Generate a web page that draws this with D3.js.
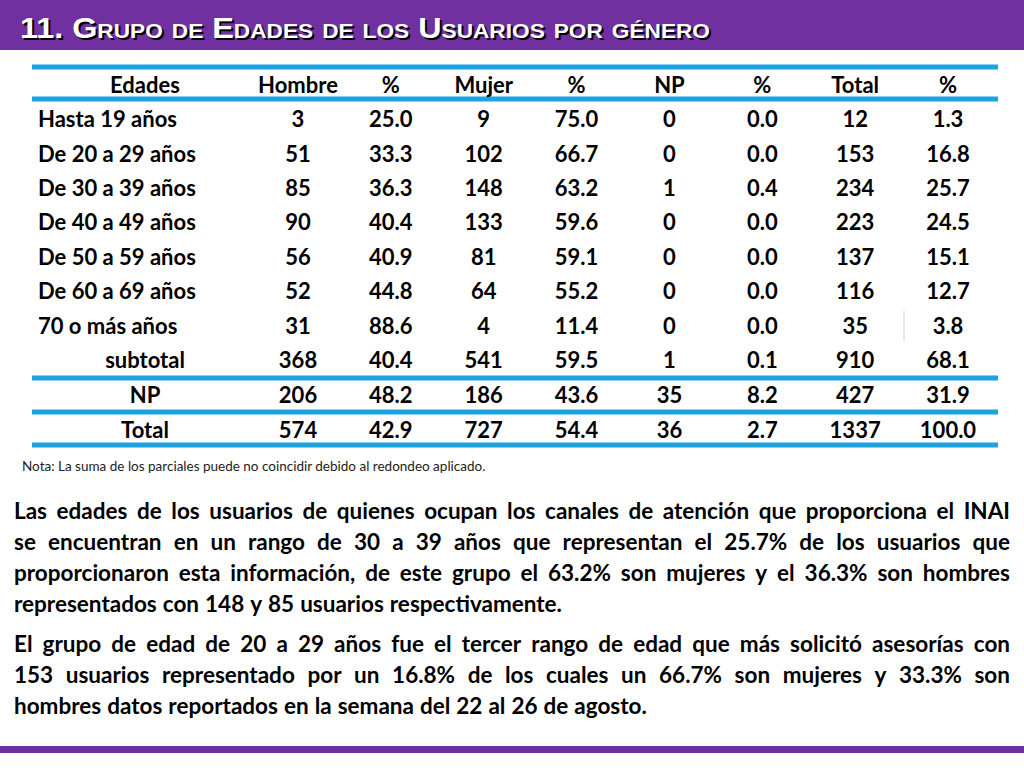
<!DOCTYPE html>
<html><head><meta charset="utf-8">
<script src="https://cdn.jsdelivr.net/npm/d3@7"></script>
<style>body{margin:0;background:#fff}svg{display:block}</style>
</head><body>
<svg id="c" width="1024" height="768"></svg>
<script>
const title = "11. Grupo de  Edades de los Usuarios por género";
const headers = ["Edades","Hombre","%","Mujer","%","NP","%","Total","%"];
const ages = ["Hasta 19 años","De 20 a 29 años","De 30 a 39 años","De 40 a 49 años","De 50 a 59 años","De 60 a 69 años","70 o más años","subtotal","NP","Total"];
const hombre = [3,51,85,90,56,52,31,368,206,574];
const pctH = ["25.0","33.3","36.3","40.4","40.9","44.8","88.6","40.4","48.2","42.9"];
const mujer = [9,102,148,133,81,64,4,541,186,727];
const pctM = ["75.0","66.7","63.2","59.6","59.1","55.2","11.4","59.5","43.6","54.4"];
const np = [0,0,1,0,0,0,0,1,35,36];
const pctNP = ["0.0","0.0","0.4","0.0","0.0","0.0","0.0","0.1","8.2","2.7"];
const total = [12,153,234,223,137,116,35,910,427,1337];
const pctT = ["1.3","16.8","25.7","24.5","15.1","12.7","3.8","68.1","31.9","100.0"];
const note = "Nota: La suma de los parciales puede no coincidir debido al redondeo aplicado.";
const para1 = ["Las edades de los usuarios de quienes ocupan los canales de atención que proporciona el INAI",
"se encuentran en un rango de 30 a 39 años que representan el 25.7% de los usuarios que",
"proporcionaron esta información, de este grupo el 63.2% son mujeres y el 36.3% son hombres",
"representados con 148 y 85 usuarios respectivamente."];
const para2 = ["El grupo de edad de 20 a 29 años fue el tercer rango de edad que más solicitó asesorías con",
"153 usuarios representado por un 16.8% de los cuales un 66.7%  son mujeres y 33.3% son",
"hombres datos reportados en la semana del 22 al 26 de agosto."];

const svg = d3.select("#c");
const purple = "#7030A0", blue = "#1AA3E0";
const F = "Lato, 'Open Sans', sans-serif";

svg.append("rect").attr("x",0).attr("y",0).attr("width",1024).attr("height",50).attr("fill",purple);
svg.append("rect").attr("x",0).attr("y",746).attr("width",1024).attr("height",7).attr("fill",purple);
[[2,2,"#000"],[0,0,"#fff"]].forEach(([dx,dy,c])=>{
  svg.append("text").attr("x",20+dx).attr("y",38+dy).attr("fill",c)
    .attr("font-family","'Liberation Sans Narrow','Liberation Sans',Arial,sans-serif").attr("font-weight","bold")
    .attr("font-size",30).style("font-variant","small-caps").attr("textLength",690).attr("lengthAdjust","spacingAndGlyphs")
    .text(title);
});

const rowIdx = d3.range(ages.length);
const y = d3.scaleLinear().domain([-1,6]).range([85,326]);
const rowY = i => i<7 ? y(i) : [360,395,430][i-7];
const x = d3.scaleLinear().domain([1,8]).range([298,948]);

[67,99,378,412,445].forEach(ly=>svg.append("rect").attr("x",32).attr("width",966).attr("y",ly-2.5).attr("height",5).attr("fill",blue));
svg.append("line").attr("x1",904).attr("x2",904).attr("y1",311).attr("y2",341).attr("stroke","#ccc");

const t = svg.append("g").attr("font-family",F).attr("font-weight","bold").attr("font-size",22).attr("fill","#000");
headers.forEach((h,j)=>t.append("text").attr("x",j===0?145:x(j)).attr("y",rowY(-1)).attr("dy","0.35em").attr("text-anchor","middle").text(h));
const cols = [hombre,pctH,mujer,pctM,np,pctNP,total,pctT];
rowIdx.forEach(i=>{
  const lab = t.append("text").attr("y",rowY(i)).attr("dy","0.35em").text(ages[i]);
  if(i<7) lab.attr("x",38); else lab.attr("x",145).attr("text-anchor","middle");
  cols.forEach((c,j)=>t.append("text").attr("x",x(j+1)).attr("y",rowY(i)).attr("dy","0.35em").attr("text-anchor","middle").text(c[i]));
});
svg.append("text").attr("x",22).attr("y",471).attr("font-family",F).attr("font-size",13.5).attr("fill","#222").text(note);

function justify(lines, y0, step){
  lines.forEach((ln,k)=>{
    const yy = y0+k*step, last = k===lines.length-1;
    const words = ln.split(/\s+/);
    const g = svg.append("g").attr("font-family",F).attr("font-weight","bold").attr("font-size",22.5).attr("fill","#000");
    const ts = words.map(w=>g.append("text").attr("y",yy).text(w));
    const ws = ts.map(s=>s.node().getComputedTextLength());
    const sum = d3.sum(ws);
    let gap = last ? 6 : (996 - sum)/(words.length-1);
    let sx = 1;
    if(gap < 3){ gap = 3; sx = (996 - 3*(words.length-1))/sum; }
    let cx = 14;
    ts.forEach((s,i)=>{s.attr("x",cx); if(sx!==1){s.attr("textLength",ws[i]*sx).attr("lengthAdjust","spacingAndGlyphs");} cx += ws[i]*sx+gap;});
  });
}
justify(para1, 519, 31);
justify(para2, 652, 31);
</script>
</body></html>
